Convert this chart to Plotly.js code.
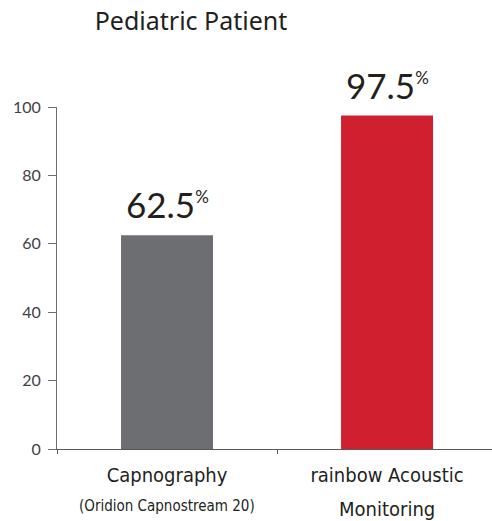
<!DOCTYPE html>
<html>
<head>
<meta charset="utf-8">
<script src="https://cdn.plot.ly/plotly-3.0.1.min.js"></script>
<style>html,body{margin:0;padding:0;background:#fff;}#chart{width:492px;height:521px;}</style>
</head>
<body>
<div id="chart"></div>
<script>
var categories = ["Capnography", "rainbow Acoustic Monitoring"];
var tickLabels = ["Capnography", "rainbow Acoustic"];
var subLabels = ["(Oridion Capnostream 20)", "Monitoring"];
var values = [62.5, 97.5];
var barColors = ["#6d6e71", "#d01f2f"];
var yTicks = [0, 20, 40, 60, 80, 100];

var condensed = "'Noto Sans Condensed', 'DejaVu Sans Condensed', sans-serif";

var trace = {
  type: "bar",
  x: categories,
  y: values,
  width: 0.418,
  marker: {color: barColors},
  hoverinfo: "none"
};

var annotations = values.map(function (v, i) {
  return {
    x: categories[i], y: v, xref: "x", yref: "y",
    text: v + "<sup><span style='font-size:17px'>%</span></sup>",
    showarrow: false, xanchor: "center", yanchor: "bottom", yshift: 8,
    font: {family: "Lato, 'Open Sans', sans-serif", size: 35, color: "#231f20"}
  };
});

var subSizes = [15, 20];
var subShifts = [-57, -60];
subLabels.forEach(function (s, i) {
  annotations.push({
    x: categories[i], y: 0, xref: "x", yref: "paper",
    text: s, showarrow: false, xanchor: "center", yanchor: "middle",
    yshift: subShifts[i],
    font: {family: condensed, size: subSizes[i], color: "#231f20"}
  });
});

var layout = {
  width: 492, height: 521,
  margin: {l: 57, r: 0, t: 107, b: 72},
  paper_bgcolor: "#ffffff", plot_bgcolor: "#ffffff",
  showlegend: false,
  title: {
    text: "Pediatric Patient",
    font: {family: "'Noto Sans', Lato, sans-serif", size: 25, color: "#231f20"},
    x: 191 / 492, xref: "container", xanchor: "center",
    y: 1 - 21 / 521, yref: "container", yanchor: "middle"
  },
  xaxis: {
    type: "category",
    range: [-0.5, 1.477],
    tickvals: categories,
    ticktext: tickLabels,
    tickson: "boundaries",
    ticks: "outside", ticklen: 4, tickwidth: 1, tickcolor: "#58595b",
    showline: true, linecolor: "#58595b", linewidth: 1,
    showgrid: false, zeroline: false,
    tickfont: {family: condensed, size: 20, color: "#231f20"},
    ticklabelstandoff: 8,
    fixedrange: true
  },
  yaxis: {
    range: [0, 100],
    tickvals: yTicks,
    ticks: "outside", ticklen: 8, tickwidth: 1, tickcolor: "#6d6e71",
    showline: true, linecolor: "#6d6e71", linewidth: 1,
    showgrid: false, zeroline: false,
    tickfont: {family: "Lato, 'Open Sans', sans-serif", size: 16, color: "#414042"},
    ticklabelstandoff: 4,
    fixedrange: true
  },
  annotations: annotations
};

Plotly.newPlot("chart", [trace], layout, {displayModeBar: false, staticPlot: true});
</script>
</body>
</html>
